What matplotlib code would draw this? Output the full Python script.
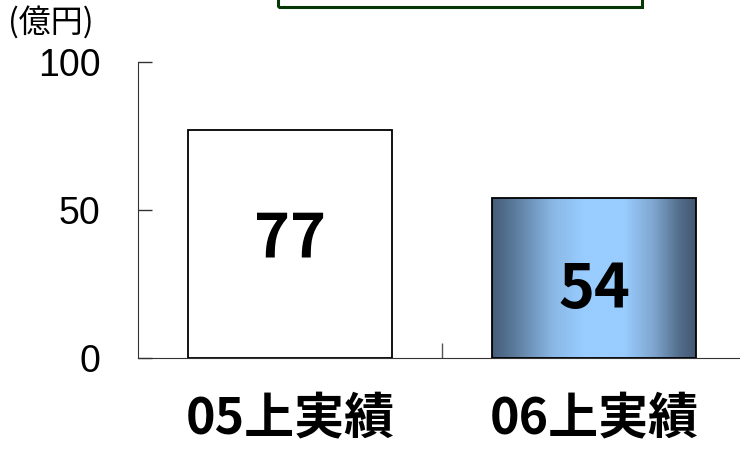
import numpy as np
import matplotlib
matplotlib.use('Agg')
from matplotlib import pyplot as plt
import matplotlib.patches as patches
from matplotlib.colors import LinearSegmentedColormap

plt.rcParams['font.family'] = ['Noto Sans CJK JP', 'DejaVu Sans']

# data
categories = ['05上実績', '06上実績']
values = [77, 54]
y_ticks = [0, 50, 100]
unit_label = '(億円)'

fig = plt.figure(figsize=(7.4, 4.51), dpi=100)
ax = fig.add_axes([138/740, 1 - 358/451, 1 - 138/740, (358 - 62)/451])

x = np.arange(len(categories))
width = 0.67
bars = ax.bar(x, values, width, color=['white', 'none'], edgecolor='black', linewidth=1.3, zorder=3)

# gradient fill for second bar
grad = LinearSegmentedColormap.from_list('g', [
    (0.0, '#465d7a'), (0.1, '#5a7898'), (0.3, '#8ab8e6'), (0.45, '#99ccff'),
    (0.65, '#99ccff'), (0.8, '#7da4cc'), (0.92, '#536d8c'), (1.0, '#445872')])
b = bars[1]
gx = np.linspace(0, 1, 256).reshape(1, -1)
ax.imshow(gx, cmap=grad, aspect='auto', zorder=2,
          extent=[b.get_x(), b.get_x() + b.get_width(), 0, b.get_height()])

ax.set_xlim(-0.5, 1.48)
ax.set_ylim(0, 100)

label_y = [40, 23]
for i, v in enumerate(values):
    ax.text(x[i], label_y[i], str(v), ha='center', va='center', fontsize=44,
            fontweight='bold', family=['Noto Sans CJK JP'], zorder=4)

ax.spines['top'].set_visible(False)
ax.spines['right'].set_visible(False)
ax.spines['left'].set_color('#333333')
ax.spines['bottom'].set_color('#333333')

ax.set_yticks(y_ticks)
ax.set_yticklabels([str(t) for t in y_ticks], family=['Liberation Sans', 'DejaVu Sans'])
ax.tick_params(axis='y', direction='in', length=10, width=1, labelsize=27, pad=27, color='#333333')

ax.set_xticks(x)
ax.set_xticklabels(categories, fontweight='bold')
ax.tick_params(axis='x', which='major', length=0, labelsize=36, pad=26)
ax.set_xticks([0.5], minor=True)
ax.tick_params(axis='x', which='minor', direction='in', length=11, width=1, color='#555555')

fig.text(8/740, 1 - 22/451, unit_label, fontsize=23, va='center', ha='left')

# green box at top (clipped by the figure edge)
box = patches.Rectangle((278/740, 1 - 7/451), (642 - 278)/740, 0.2,
                        transform=fig.transFigure, fill=False, edgecolor='#063806',
                        linewidth=2.2, clip_on=False)
fig.patches.append(box)

fig.savefig('out.png', dpi=100)
